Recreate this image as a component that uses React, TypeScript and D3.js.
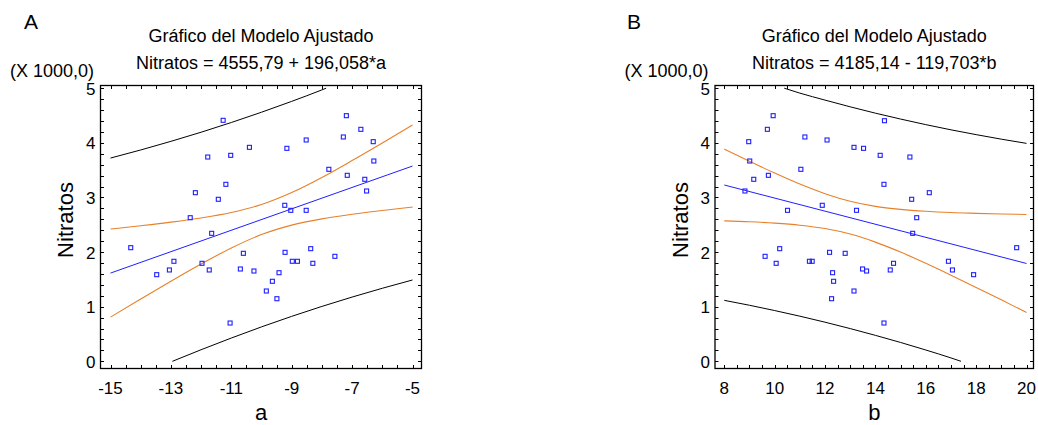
import React from "react";
import * as d3 from "d3";

// ---------- Data (values in thousands) ----------
const aValues = [
  -11.27, -7.19, -6.71, -7.29, -8.52, -6.3, -10.4, -9.16, -11.02, -11.78, -6.28,
  -7.77, -7.16, -6.58, -11.18, -6.52, -12.19, -11.43, -9.23, -9.03, -8.52, -12.36,
  -11.65, -14.33, -10.6, -9.22, -8.37, -7.57, -12.9, -11.97, -8.98, -8.81, -8.3,
  -13.05, -11.73, -10.7, -10.25, -9.42, -13.47, -9.64, -9.84, -9.49, -11.04,
];
const nitratosA = [
  4.412, 4.497, 4.247, 4.107, 4.052, 4.021, 3.917, 3.899, 3.771, 3.74, 3.667,
  3.515, 3.405, 3.332, 3.24, 3.118, 3.087, 2.966, 2.856, 2.764, 2.764, 2.629,
  2.343, 2.08, 1.977, 1.995, 2.062, 1.922, 1.831, 1.794, 1.831, 1.831, 1.794,
  1.672, 1.672, 1.69, 1.653, 1.622, 1.586, 1.465, 1.287, 1.146, 0.701,
];

const bValues = [
  9.94, 9.71, 14.36, 11.2, 8.97, 12.08, 13.15, 13.53, 14.19, 15.37, 9.01,
  11.04, 9.75, 9.17, 14.34, 8.82, 16.14, 15.44, 11.89, 10.51, 13.25, 15.64,
  15.48, 19.61, 10.2, 12.18, 12.8, 9.62, 11.38, 11.49, 16.9, 10.06, 14.72,
  13.49, 13.65, 14.59, 17.06, 12.3, 17.9, 12.34, 13.15, 12.26, 14.34,
];
const nitratosB = [
  4.497, 4.247, 4.405, 4.107, 4.021, 4.052, 3.917, 3.899, 3.771, 3.74, 3.667,
  3.515, 3.405, 3.332, 3.24, 3.118, 3.087, 2.966, 2.856, 2.764, 2.764, 2.629,
  2.343, 2.08, 2.062, 1.995, 1.977, 1.922, 1.831, 1.831, 1.831, 1.794, 1.794,
  1.69, 1.653, 1.672, 1.672, 1.622, 1.586, 1.465, 1.287, 1.146, 0.701,
];

// fitted lines (end points)
const fitAx = [-15, -5];
const fitAy = [1.615, 3.575];
const fitBx = [8, 20];
const fitBy = [3.2275, 1.7911];

// confidence limits for the mean (orange)
const bandAx = [-15, -14, -13, -12, -11, -10, -9, -8, -7, -6, -5];
const confUpA = [2.421, 2.482, 2.548, 2.625, 2.724, 2.87, 3.089, 3.366, 3.675, 3.997, 4.327];
const confLoA = [0.809, 1.14, 1.466, 1.781, 2.074, 2.32, 2.493, 2.608, 2.691, 2.761, 2.823];
// prediction limits (black)
const predUpAx = [-15, -14, -13, -12, -11, -10, -9, -8, -7.86];
const predUpA = [3.721, 3.869, 4.027, 4.194, 4.372, 4.56, 4.759, 4.969, 5.0];
const predLoAx = [-12.95, -12, -11, -10, -9, -8, -7, -6, -5];
const predLoA = [0.0, 0.212, 0.426, 0.63, 0.823, 1.005, 1.176, 1.337, 1.489];

const bandBx = [8, 9, 10, 11, 12, 13, 14, 15, 16, 17, 18, 19, 20];
const confUpB = [3.885, 3.661, 3.446, 3.244, 3.068, 2.929, 2.836, 2.781, 2.746, 2.723, 2.709, 2.697, 2.689];
const confLoB = [2.571, 2.555, 2.53, 2.492, 2.43, 2.329, 2.182, 1.999, 1.794, 1.577, 1.353, 1.125, 0.893];
const predUpBx = [10.38, 11, 12, 13, 14, 15, 16, 17, 18, 19, 20];
const predUpB = [5.0, 4.91, 4.782, 4.659, 4.543, 4.435, 4.333, 4.238, 4.15, 4.067, 3.99];
const predLoBx = [8, 9, 10, 11, 12, 13, 14, 15, 16, 17, 17.4];
const predLoB = [1.116, 1.026, 0.929, 0.826, 0.716, 0.599, 0.475, 0.345, 0.207, 0.062, 0.0];

const yTickLabels = [0, 1, 2, 3, 4, 5];
const xTickLabelsA = [-15, -13, -11, -9, -7, -5];
const xTickLabelsB = [8, 10, 12, 14, 16, 18, 20];

const titleA = "Nitratos = 4555,79 + 196,058*a";
const titleB = "Nitratos = 4185,14 - 119,703*b";

const FONT = "'Liberation Sans', Arial, Helvetica, sans-serif";
const BLUE = "#1f1fff";
const ORANGE = "#e8802a";

type PanelProps = {
  letter: string;
  letterX: number;
  left: number;
  right: number;
  xDomain: [number, number];
  xRange: [number, number];
  xMinorStep: number;
  xLabels: number[];
  xName: string;
  eq: string;
  px: number[];
  py: number[];
  fitX: number[];
  fitY: number[];
  bandX: number[];
  confUp: number[];
  confLo: number[];
  predUpX: number[];
  predUp: number[];
  predLoX: number[];
  predLo: number[];
};

function Panel(p: PanelProps) {
  const top = 85.5;
  const bottom = 368.5;
  const x = d3.scaleLinear().domain(p.xDomain).range(p.xRange);
  const y = d3.scaleLinear().domain([0, 5]).range([361.3, 88.2]);
  const tick = 3.5;
  const xMinor = d3.range(p.xDomain[0], p.xDomain[1] + 1e-6, p.xMinorStep);
  const yMinor = d3.range(0, 5 + 1e-6, 0.2);
  const line = (xs: number[], ys: number[]) =>
    d3
      .line<number>()
      .x((_, i) => x(xs[i]))
      .y((d) => y(d))
      .curve(d3.curveMonotoneX)(ys) || "";
  const cx = (p.left + p.right) / 2;
  const cy = (top + bottom) / 2;

  return (
    <g fontFamily={FONT} fill="#000">
      <text x={p.letterX} y={28.5} fontSize={21}>
        {p.letter}
      </text>
      <text x={cx} y={42} fontSize={18} textAnchor="middle">
        Gráfico del Modelo Ajustado
      </text>
      <text x={cx} y={68.5} fontSize={18} textAnchor="middle">
        {p.eq}
      </text>
      <text x={p.left - 90.5} y={77} fontSize={18}>
        (X 1000,0)
      </text>

      {/* curves */}
      <path d={line(p.predUpX, p.predUp)} fill="none" stroke="#000" strokeWidth={1} />
      <path d={line(p.predLoX, p.predLo)} fill="none" stroke="#000" strokeWidth={1} />
      <path d={line(p.bandX, p.confUp)} fill="none" stroke={ORANGE} strokeWidth={1.1} />
      <path d={line(p.bandX, p.confLo)} fill="none" stroke={ORANGE} strokeWidth={1.1} />
      <path d={line(p.fitX, p.fitY)} fill="none" stroke={BLUE} strokeWidth={1} />

      {/* points */}
      {p.px.map((v, i) => (
        <rect
          key={i}
          x={x(v) - 2}
          y={y(p.py[i]) - 2}
          width={4}
          height={4}
          fill="none"
          stroke={BLUE}
          strokeWidth={1.1}
        />
      ))}

      {/* frame */}
      <rect
        x={p.left}
        y={top}
        width={p.right - p.left}
        height={bottom - top}
        fill="none"
        stroke="#000"
        strokeWidth={1.3}
      />
      {/* ticks */}
      {xMinor.map((v, i) => {
        const xx = Math.round(x(v)) + 0.5;
        return (
          <g key={"xt" + i} stroke="#000" strokeWidth={1}>
            <line x1={xx} x2={xx} y1={bottom} y2={bottom - tick} />
            <line x1={xx} x2={xx} y1={top} y2={top + tick} />
          </g>
        );
      })}
      {yMinor.map((v, i) => {
        const yy = Math.round(y(v)) + 0.5;
        return (
          <g key={"yt" + i} stroke="#000" strokeWidth={1}>
            <line x1={p.left} x2={p.left + tick} y1={yy} y2={yy} />
            <line x1={p.right} x2={p.right - tick} y1={yy} y2={yy} />
          </g>
        );
      })}
      {/* tick labels */}
      {yTickLabels.map((v) => (
        <text
          key={"yl" + v}
          x={p.left - 5}
          y={y(v) + 6.5}
          fontSize={17}
          textAnchor="end"
        >
          {v}
        </text>
      ))}
      {p.xLabels.map((v) => (
        <text key={"xl" + v} x={x(v)} y={393.5} fontSize={17} textAnchor="middle">
          {v}
        </text>
      ))}
      {/* axis titles */}
      <text x={cx} y={420} fontSize={22} textAnchor="middle">
        {p.xName}
      </text>
      <text
        transform={`translate(${p.left - 27.5},${cy - 7}) rotate(-90)`}
        fontSize={22}
        textAnchor="middle"
      >
        Nitratos
      </text>
    </g>
  );
}

export default function App() {
  return (
    <svg
      width={1038}
      height={425}
      viewBox="0 0 1038 425"
      style={{ position: "absolute", left: 0, top: 0, background: "#fff" }}
    >
      <rect x={0} y={0} width={1038} height={425} fill="#fff" />
      <Panel
        letter="A"
        letterX={24}
        left={100.5}
        right={421.5}
        xDomain={[-15, -5]}
        xRange={[110.5, 412.5]}
        xMinorStep={0.5}
        xLabels={xTickLabelsA}
        xName="a"
        eq={titleA}
        px={aValues}
        py={nitratosA}
        fitX={fitAx}
        fitY={fitAy}
        bandX={bandAx}
        confUp={confUpA}
        confLo={confLoA}
        predUpX={predUpAx}
        predUp={predUpA}
        predLoX={predLoAx}
        predLo={predLoA}
      />
      <Panel
        letter="B"
        letterX={627}
        left={715}
        right={1033.5}
        xDomain={[8, 20]}
        xRange={[724.3, 1026.5]}
        xMinorStep={0.5}
        xLabels={xTickLabelsB}
        xName="b"
        eq={titleB}
        px={bValues}
        py={nitratosB}
        fitX={fitBx}
        fitY={fitBy}
        bandX={bandBx}
        confUp={confUpB}
        confLo={confLoB}
        predUpX={predUpBx}
        predUp={predUpB}
        predLoX={predLoBx}
        predLo={predLoB}
      />
    </svg>
  );
}
